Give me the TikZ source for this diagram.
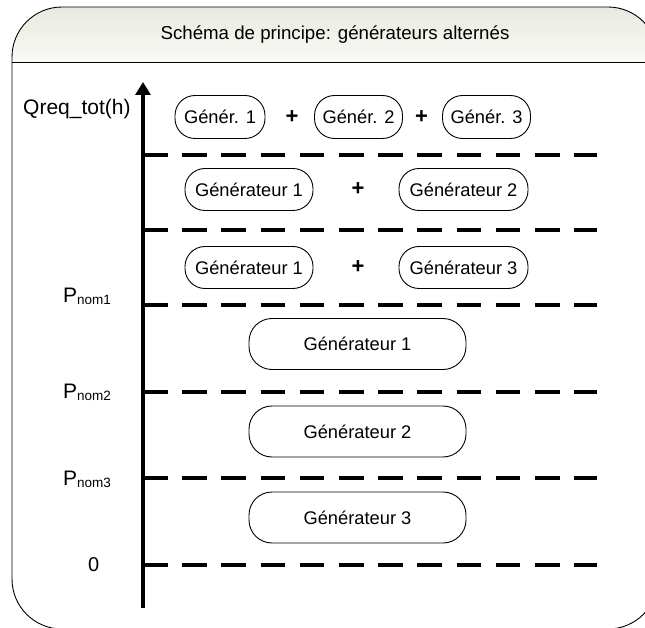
\documentclass[tikz,border=0pt]{standalone}
\usepackage{fontspec}
\setmainfont{Liberation Sans}
\usetikzlibrary{arrows.meta}
\definecolor{bandtop}{RGB}{232,233,222}
\definecolor{bandbot}{RGB}{250,250,246}
\tikzset{
  pill/.style={draw, line width=0.9pt, rounded corners=20pt, minimum height=42pt, inner sep=0pt,
               font=\fontsize{18.3}{21}\selectfont},
  bigbox/.style={draw, line width=0.9pt, rounded corners=23pt, minimum width=217pt, minimum height=51pt,
               inner sep=0pt, font=\fontsize{18.3}{21}\selectfont},
  plus/.style={font=\fontsize{22}{24}\selectfont\bfseries, inner sep=0pt},
  levelline/.style={line width=4pt, dash pattern=on 24.5pt off 14.7pt},
  axisline/.style={line width=4pt, -{Triangle[width=15pt,length=13pt]}},
  lbl/.style={anchor=base west, inner sep=0pt, font=\fontsize{20}{24}\selectfont},
}
\newcommand{\Pnom}[1]{{\fontsize{21}{24}\selectfont P}\raisebox{-2pt}{\fontsize{13.5}{15}\selectfont nom#1}}
\begin{document}
\begin{tikzpicture}[x=1pt,y=-1pt]
\useasboundingbox (0,0) rectangle (645,628);
\clip (0,0) rectangle (645,628);
% frame and title band
\begin{scope}
  \clip[rounded corners=50pt] (12,7) rectangle (658,629);
  \shade[top color=bandtop, bottom color=bandbot] (12,7) rectangle (658,62);
\end{scope}
\draw[line width=0.9pt, rounded corners=50pt] (12,7) rectangle (658,629);
\draw[line width=0.9pt] (12,62) -- (658,62);
\node[font=\fontsize{18.7}{22}\selectfont] (title) at (335,35) {Schéma de principe: générateurs alternés};

% level lines
\foreach \yy in {155,230,305,392,478,565}{
  \draw[levelline] (143,\yy) -- (597,\yy);
}
% axis
\coordinate (axbot) at (143,608);
\coordinate (axtop) at (143,82);
\draw[axisline] (axbot) -- (axtop);

% left labels
\node[lbl, font=\fontsize{21}{24}\selectfont] (q) at (23,115) {Qreq\_tot(h)};
\node[lbl] (p1) at (63,302) {\Pnom{1}};
\node[lbl] (p2) at (63,398) {\Pnom{2}};
\node[lbl] (p3) at (63,485) {\Pnom{3}};
\node[lbl] (zero) at (88,571) {0};

% row 1
\node[pill, minimum width=90pt, minimum height=43pt] (a1) at (220,117) {Génér. 1};
\node[plus] (pa1) at (292,117) {+};
\node[pill, minimum width=88pt, minimum height=43pt] (a2) at (358.5,117) {Génér. 2};
\node[plus] (pa2) at (421.5,117) {+};
\node[pill, minimum width=88pt, minimum height=43pt] (a3) at (486.5,117) {Génér. 3};

% row 2
\node[pill, minimum width=128pt] (b1) at (249,189.5) {Générateur 1};
\node[plus] (pb) at (358,189.5) {+};
\node[pill, minimum width=129pt] (b2) at (463.5,189.5) {Générateur 2};

% row 3
\node[pill, minimum width=128pt] (c1) at (249,267.5) {Générateur 1};
\node[plus] (pc) at (358,267.5) {+};
\node[pill, minimum width=129pt] (c2) at (463.5,267.5) {Générateur 3};

% single generators
\node[bigbox] (d1) at (357.5,344) {Générateur 1};
\node[bigbox] (d2) at (357.5,431.5) {Générateur 2};
\node[bigbox] (d3) at (357.5,517.5) {Générateur 3};
\end{tikzpicture}
\end{document}
